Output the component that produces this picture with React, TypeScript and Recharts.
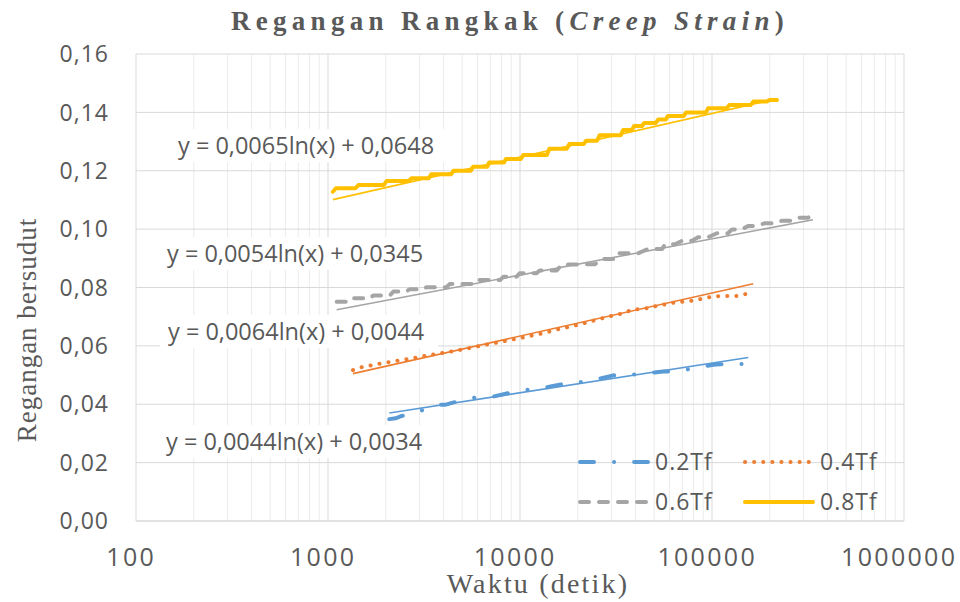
import React from 'react';
import { LineChart, Line, XAxis, YAxis, CartesianGrid } from 'recharts';

// ---------- data ----------
const seriesNames = ['0.2Tf', '0.4Tf', '0.6Tf', '0.8Tf'];
const seriesColors = ['#5B9BD5', '#ED7D31', '#A5A5A5', '#FFC000'];

// 0.2Tf
const time02 = [2086, 2250, 2420, 2600, 2953, 3524, 3800, 4066, 4870, 5946, 6500, 7125, 8527, 10620, 11400, 12220, 14630, 18580, 20000, 21370, 25580, 30620, 33500, 36640, 45700, 55720, 61000, 66710, 81470, 101600, 110000, 119400, 148500];
const strain02 = [0.0349, 0.0352, 0.0360, 0.0362, 0.0374, 0.0395, 0.0398, 0.0398, 0.0412, 0.0424, 0.0425, 0.0425, 0.0437, 0.0449, 0.0450, 0.0450, 0.0462, 0.0475, 0.0476, 0.0476, 0.0487, 0.0499, 0.0500, 0.0500, 0.0506, 0.0512, 0.0512, 0.0512, 0.0525, 0.0535, 0.0537, 0.0538, 0.0538];

// 0.4Tf
const time04 = [1349, 1498, 1822, 2234, 2729, 3398, 4150, 5047, 6190, 7563, 9204, 11270, 13490, 16480, 19730, 23990, 28830, 34530, 38170, 45700, 51520, 62860, 79930, 95660, 110100, 134500, 161000];
const strain04 = [0.0517, 0.0527, 0.0538, 0.0548, 0.0557, 0.0569, 0.0578, 0.0588, 0.0600, 0.0611, 0.0622, 0.0634, 0.0645, 0.0660, 0.0671, 0.0686, 0.0700, 0.0712, 0.0723, 0.0729, 0.0737, 0.0748, 0.0755, 0.0766, 0.0771, 0.0771, 0.0782];

// 0.6Tf
const time06 = [1110, 1280, 1330, 1660, 1720, 2100, 2190, 2560, 2660, 3150, 3250, 4150, 4300, 5700, 5950, 7900, 8200, 9600, 9950, 12200, 12650, 15500, 16500, 24600, 26700, 32000, 32900, 41200, 46400, 55000, 56900, 64100, 69800, 78700, 84600, 95200, 106100, 121100, 127100, 143200, 154100, 167600, 188900, 205400, 231700, 261200, 280700, 316200, 335700];
const strain06 = [0.0751, 0.0751, 0.0763, 0.0763, 0.0773, 0.0773, 0.0786, 0.0786, 0.0794, 0.0794, 0.0801, 0.0801, 0.0812, 0.0812, 0.0826, 0.0826, 0.0837, 0.0837, 0.0849, 0.0849, 0.0858, 0.0858, 0.0878, 0.0880, 0.0898, 0.0898, 0.0917, 0.0917, 0.0932, 0.0932, 0.0948, 0.0948, 0.0960, 0.0960, 0.0972, 0.0972, 0.0986, 0.0986, 0.0999, 0.0999, 0.1011, 0.1011, 0.1020, 0.1020, 0.1029, 0.1029, 0.1039, 0.1039, 0.1051];

// 0.8Tf
const time08 = [1060, 1100, 1390, 1440, 1950, 2020, 2640, 2720, 3350, 3450, 4380, 4500, 5550, 5700, 6750, 6900, 8250, 8450, 10100, 10400, 13800, 14200, 17500, 18100, 21500, 22100, 25200, 26000, 33500, 34500, 38300, 39300, 43200, 44300, 51000, 52500, 57500, 59000, 71300, 73300, 93000, 95500, 119500, 123000, 159000, 164000, 193000, 198000, 218000];
const strain08 = [0.1128, 0.1140, 0.1140, 0.1151, 0.1151, 0.1165, 0.1165, 0.1174, 0.1174, 0.1188, 0.1188, 0.1200, 0.1200, 0.1214, 0.1214, 0.1228, 0.1228, 0.1240, 0.1240, 0.1254, 0.1254, 0.1275, 0.1275, 0.1292, 0.1292, 0.1303, 0.1303, 0.1322, 0.1322, 0.1340, 0.1340, 0.1353, 0.1353, 0.1364, 0.1364, 0.1376, 0.1376, 0.1388, 0.1388, 0.1400, 0.1400, 0.1414, 0.1414, 0.1425, 0.1425, 0.1437, 0.1437, 0.1442, 0.1442];

// logarithmic trendline end points (y = a ln(x) + b)
const trendTime02 = [2086, 154500];
const trendStrain02 = [0.0370, 0.0560];
const trendTime04 = [1349, 164000];
const trendStrain04 = [0.0505, 0.0813];
const trendTime06 = [1110, 335700];
const trendStrain06 = [0.0724, 0.1032];
const trendTime08 = [1060, 218000];
const trendStrain08 = [0.1101, 0.1447];

const trendEquations = [
  'y = 0,0044ln(x) + 0,0034',
  'y = 0,0064ln(x) + 0,0044',
  'y = 0,0054ln(x) + 0,0345',
  'y = 0,0065ln(x) + 0,0648',
];

const xMajorTicks = [100, 1000, 10000, 100000, 1000000];
const xMinorTicks = [200, 300, 400, 500, 600, 700, 800, 900, 2000, 3000, 4000, 5000, 6000, 7000, 8000, 9000, 20000, 30000, 40000, 50000, 60000, 70000, 80000, 90000, 200000, 300000, 400000, 500000, 600000, 700000, 800000, 900000];
const yTicks = [0, 0.02, 0.04, 0.06, 0.08, 0.1, 0.12, 0.14, 0.16];

const rows = (t: number[], v: number[]) => t.map((x, i) => ({ t: x, v: v[i] }));

const dataSeries = [rows(time02, strain02), rows(time04, strain04), rows(time06, strain06), rows(time08, strain08)];
const trendSeries = [
  rows(trendTime02, trendStrain02),
  rows(trendTime04, trendStrain04),
  rows(trendTime06, trendStrain06),
  rows(trendTime08, trendStrain08),
];

// ---------- styles ----------
const SANS = "'Open Sans', sans-serif";
const SERIF = "'Liberation Serif', 'Times New Roman', serif";
const TXT = '#595959';
const dashes = ['14 20 0.1 20', '0.1 9', '9 10', undefined];

const XTick = (props: any) => {
  const { x, y, payload } = props;
  return (
    <text x={x - 4.8} y={y} dy="0.71em" textAnchor="middle" fontFamily={SANS} fontSize={25} letterSpacing={2.3} fill={TXT}>
      {payload.value}
    </text>
  );
};

const YTick = (props: any) => {
  const { x, y, payload } = props;
  return (
    <text x={x} y={y} dy="0.355em" textAnchor="end" fontFamily={SANS} fontSize={23} letterSpacing={1} fill={TXT}>
      {Number(payload.value).toFixed(2).replace('.', ',')}
    </text>
  );
};

// label layout: [left x, center y]
const eqPos = [
  [166, 442],
  [168, 332],
  [167, 254],
  [178, 146],
];

const legendPos = [
  [578, 462],
  [743, 462],
  [578, 502],
  [743, 502],
];

export default function App() {
  return (
    <div style={{ position: 'absolute', left: 0, top: 0, width: 960, height: 602, background: '#fff' }}>
      <LineChart width={960} height={602} margin={{ top: 54, right: 56, bottom: 0, left: 0 }}>
        <CartesianGrid horizontal={false} vertical verticalValues={xMinorTicks} stroke="#ececec" strokeWidth={1} />
        <CartesianGrid horizontal vertical verticalValues={xMajorTicks} horizontalValues={yTicks} stroke="#d9d9d9" strokeWidth={1} />
        <XAxis
          type="number"
          dataKey="t"
          scale="log"
          domain={[100, 1000000]}
          ticks={xMajorTicks}
          allowDataOverflow
          height={81}
          tickLine={false}
          tickSize={0}
          tickMargin={27}
          axisLine={{ stroke: '#d9d9d9' }}
          tick={<XTick />}
          interval={0}
        />
        <YAxis
          type="number"
          dataKey="v"
          domain={[0, 0.16]}
          ticks={yTicks}
          width={136}
          tickLine={false}
          tickSize={0}
          tickMargin={27}
          axisLine={false}
          tick={<YTick />}
          interval={0}
        />
        {trendSeries.map((d, i) => (
          <Line
            key={'tr' + i}
            data={d}
            dataKey="v"
            type="linear"
            stroke={seriesColors[i]}
            strokeWidth={1.6}
            dot={false}
            activeDot={false}
            isAnimationActive={false}
            legendType="none"
          />
        ))}
        {dataSeries.map((d, i) => (
          <Line
            key={'s' + i}
            data={d}
            dataKey="v"
            name={seriesNames[i]}
            type="linear"
            stroke={seriesColors[i]}
            strokeWidth={4}
            strokeDasharray={dashes[i]}
            strokeLinecap="round"
            strokeLinejoin="round"
            dot={false}
            activeDot={false}
            isAnimationActive={false}
          />
        ))}
      </LineChart>
      <svg width={960} height={602} style={{ position: 'absolute', left: 0, top: 0, pointerEvents: 'none' }}>
        <text x={510} y={30} textAnchor="middle" fontFamily={SERIF} fontWeight="bold" fontSize={27} letterSpacing={5.3} fill={TXT}>
          <tspan>Regangan Rangkak (</tspan>
          <tspan fontStyle="italic">Creep Strain</tspan>
          <tspan>)</tspan>
        </text>
        <text x={36} y={330} transform="rotate(-90 36 330)" textAnchor="middle" fontFamily={SERIF} fontSize={27} letterSpacing={1} fill={TXT}>
          Regangan bersudut
        </text>
        <text x={538} y={593} textAnchor="middle" fontFamily={SERIF} fontSize={28} letterSpacing={2.2} fill={TXT}>
          Waktu (detik)
        </text>
        {trendEquations.map((eq, i) => (
          <g key={'eq' + i}>
            <rect x={eqPos[i][0] - 8} y={eqPos[i][1] - 17} width={278} height={33} fill="#fff" />
            <text x={eqPos[i][0]} y={eqPos[i][1] + 8.3} fontFamily={SANS} fontSize={23.5} fill={TXT}>
              {eq}
            </text>
          </g>
        ))}
        {seriesNames.map((n, i) => (
          <g key={'lg' + i}>
            <line
              x1={legendPos[i][0] + 2}
              x2={legendPos[i][0] + 70}
              y1={legendPos[i][1]}
              y2={legendPos[i][1]}
              stroke={seriesColors[i]}
              strokeWidth={4}
              strokeDasharray={dashes[i]}
              strokeLinecap="round"
            />
            <text x={legendPos[i][0] + 77} y={legendPos[i][1] + 8.2} fontFamily={SANS} fontSize={23} letterSpacing={1} fill={TXT}>
              {n}
            </text>
          </g>
        ))}
      </svg>
    </div>
  );
}
